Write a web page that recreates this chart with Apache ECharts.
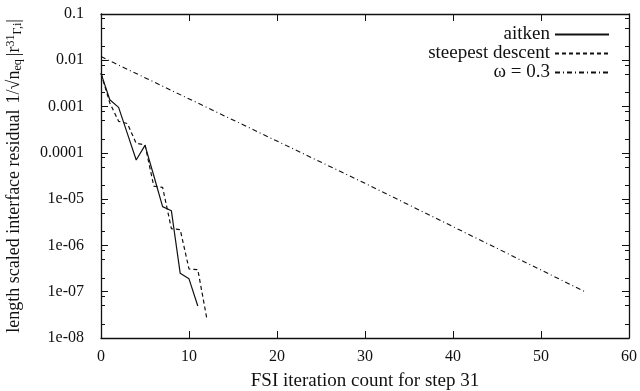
<!DOCTYPE html>
<html>
<head>
<meta charset="utf-8">
<script src="https://cdn.jsdelivr.net/npm/echarts@6/dist/echarts.min.js"></script>
<style>
  html, body { margin: 0; padding: 0; background: #fff; }
  #chart { width: 640px; height: 391px; }
</style>
</head>
<body>
<div id="chart"></div>
<script>
// data
const aitkenIter = [0, 1, 2, 3, 4, 5, 6, 7, 8, 9, 10, 11];
const aitkenRes = [0.0052, 0.0014, 0.00096, 0.00026, 0.00007, 0.000145, 0.000032, 0.0000069, 0.0000056, 0.00000025, 0.00000019, 0.000000049];

const steepestIter = [0, 1, 2, 3, 4, 5, 6, 7, 8, 9, 10, 11, 12];
const steepestRes = [0.0052, 0.0012, 0.00048, 0.00043, 0.00016, 0.00015, 0.000019, 0.000018, 0.0000023, 0.0000022, 0.00000031, 0.0000003, 0.000000028];

const omegaIter = [0, 30, 55];
const omegaRes = [0.012, 0.000022, 0.0000001];

const yTickValues = [1e-8, 1e-7, 1e-6, 1e-5, 1e-4, 1e-3, 1e-2, 1e-1];
const yTickLabels = ['1e-08', '1e-07', '1e-06', '1e-05', '0.0001', '0.001', '0.01', '0.1'];

// minor log ticks at 2, 5, 8 of each decade
const minorTicks = [];
for (let e = -8; e < -1; e++) {
  [2, 5, 8].forEach((m) => minorTicks.push(m * Math.pow(10, e)));
}

const font = 'Liberation Serif';
const ink = '#111';

function pairs(xs, ys) {
  return xs.map((x, i) => [x, ys[i]]);
}

function yLabel(v) {
  for (let i = 0; i < yTickValues.length; i++) {
    if (Math.abs(Math.log10(v) - Math.log10(yTickValues[i])) < 1e-6) return yTickLabels[i];
  }
  return '';
}

const chart = echarts.init(document.getElementById('chart'));

const logAxisBase = {
  type: 'log',
  logBase: 10,
  min: 1e-8,
  max: 0.1,
  splitLine: { show: false },
  axisLine: { show: true, lineStyle: { color: ink, width: 1.3 } },
};

const option = {
  animation: false,
  backgroundColor: '#fff',
  textStyle: { fontFamily: font, color: ink },
  grid: { left: 101, right: 11, top: 14, bottom: 53, outerBoundsMode: 'none', containLabel: false },
  legend: {
    orient: 'vertical',
    right: 25,
    top: 20,
    align: 'right',
    itemWidth: 54,
    itemHeight: 14,
    itemGap: 0,
    itemStyle: { opacity: 0 },
    formatter: '{n|{name}}',
    textStyle: {
      fontFamily: font,
      fontSize: 19,
      color: ink,
      rich: { n: { fontFamily: font, fontSize: 19, color: ink } },
    },
    data: ['aitken', 'steepest descent', 'ω = 0.3'],
  },
  xAxis: [
    {
      type: 'value',
      min: 0,
      max: 60,
      interval: 10,
      name: 'FSI iteration count for step 31',
      nameLocation: 'middle',
      nameGap: 34,
      nameTextStyle: { fontFamily: font, fontSize: 19, color: ink },
      splitLine: { show: false },
      axisLine: { show: true, lineStyle: { color: ink, width: 1.3 } },
      axisTick: { inside: true, length: 7, lineStyle: { color: ink } },
      axisLabel: { fontFamily: font, fontSize: 16, color: ink, margin: 11 },
    },
    {
      type: 'value',
      position: 'top',
      min: 0,
      max: 60,
      interval: 10,
      splitLine: { show: false },
      axisLine: { show: true, lineStyle: { color: ink, width: 1.3 } },
      axisTick: { inside: true, length: 7, lineStyle: { color: ink } },
      axisLabel: { show: false },
    },
  ],
  yAxis: [
    Object.assign({}, logAxisBase, {
      name: '{t|length scaled interface residual}  {t|1/√n}{s|eq} {t||r}{p|31}{s|Γ,i}{t||}',
      nameLocation: 'middle',
      nameGap: 77,
      nameTextStyle: {
        rich: {
          t: { fontFamily: font, fontSize: 18, color: ink },
          s: { fontFamily: font, fontSize: 12, color: ink, verticalAlign: 'bottom', padding: [7, 0, 0, 0] },
          p: { fontFamily: font, fontSize: 12, color: ink, verticalAlign: 'top', padding: [0, 0, 7, 0] },
        },
      },
      axisTick: { inside: true, length: 7, lineStyle: { color: ink }, customValues: yTickValues },
      axisLabel: { fontFamily: font, fontSize: 16, color: ink, margin: 17, customValues: yTickValues, formatter: yLabel },
    }),
    Object.assign({}, logAxisBase, {
      position: 'left',
      axisLine: { show: false },
      axisTick: { inside: true, length: 4, lineStyle: { color: ink }, customValues: minorTicks },
      axisLabel: { show: false },
    }),
    Object.assign({}, logAxisBase, {
      position: 'right',
      axisTick: { inside: true, length: 7, lineStyle: { color: ink }, customValues: yTickValues },
      axisLabel: { show: false },
    }),
    Object.assign({}, logAxisBase, {
      position: 'right',
      axisLine: { show: false },
      axisTick: { inside: true, length: 4, lineStyle: { color: ink }, customValues: minorTicks },
      axisLabel: { show: false },
    }),
  ],
  series: [
    {
      name: 'aitken',
      type: 'line',
      data: pairs(aitkenIter, aitkenRes),
      showSymbol: false,
      symbol: 'none',
      lineStyle: { color: ink, width: 1.2, type: 'solid' },
      itemStyle: { color: ink },
    },
    {
      name: 'steepest descent',
      type: 'line',
      data: pairs(steepestIter, steepestRes),
      showSymbol: false,
      symbol: 'none',
      lineStyle: { color: ink, width: 1.2, type: [4, 3] },
      itemStyle: { color: ink },
    },
    {
      name: 'ω = 0.3',
      type: 'line',
      data: pairs(omegaIter, omegaRes),
      showSymbol: false,
      symbol: 'none',
      lineStyle: { color: ink, width: 1.1, type: [5, 3, 1, 3] },
      itemStyle: { color: ink },
    },
  ],
};

chart.setOption(option);
</script>
</body>
</html>
